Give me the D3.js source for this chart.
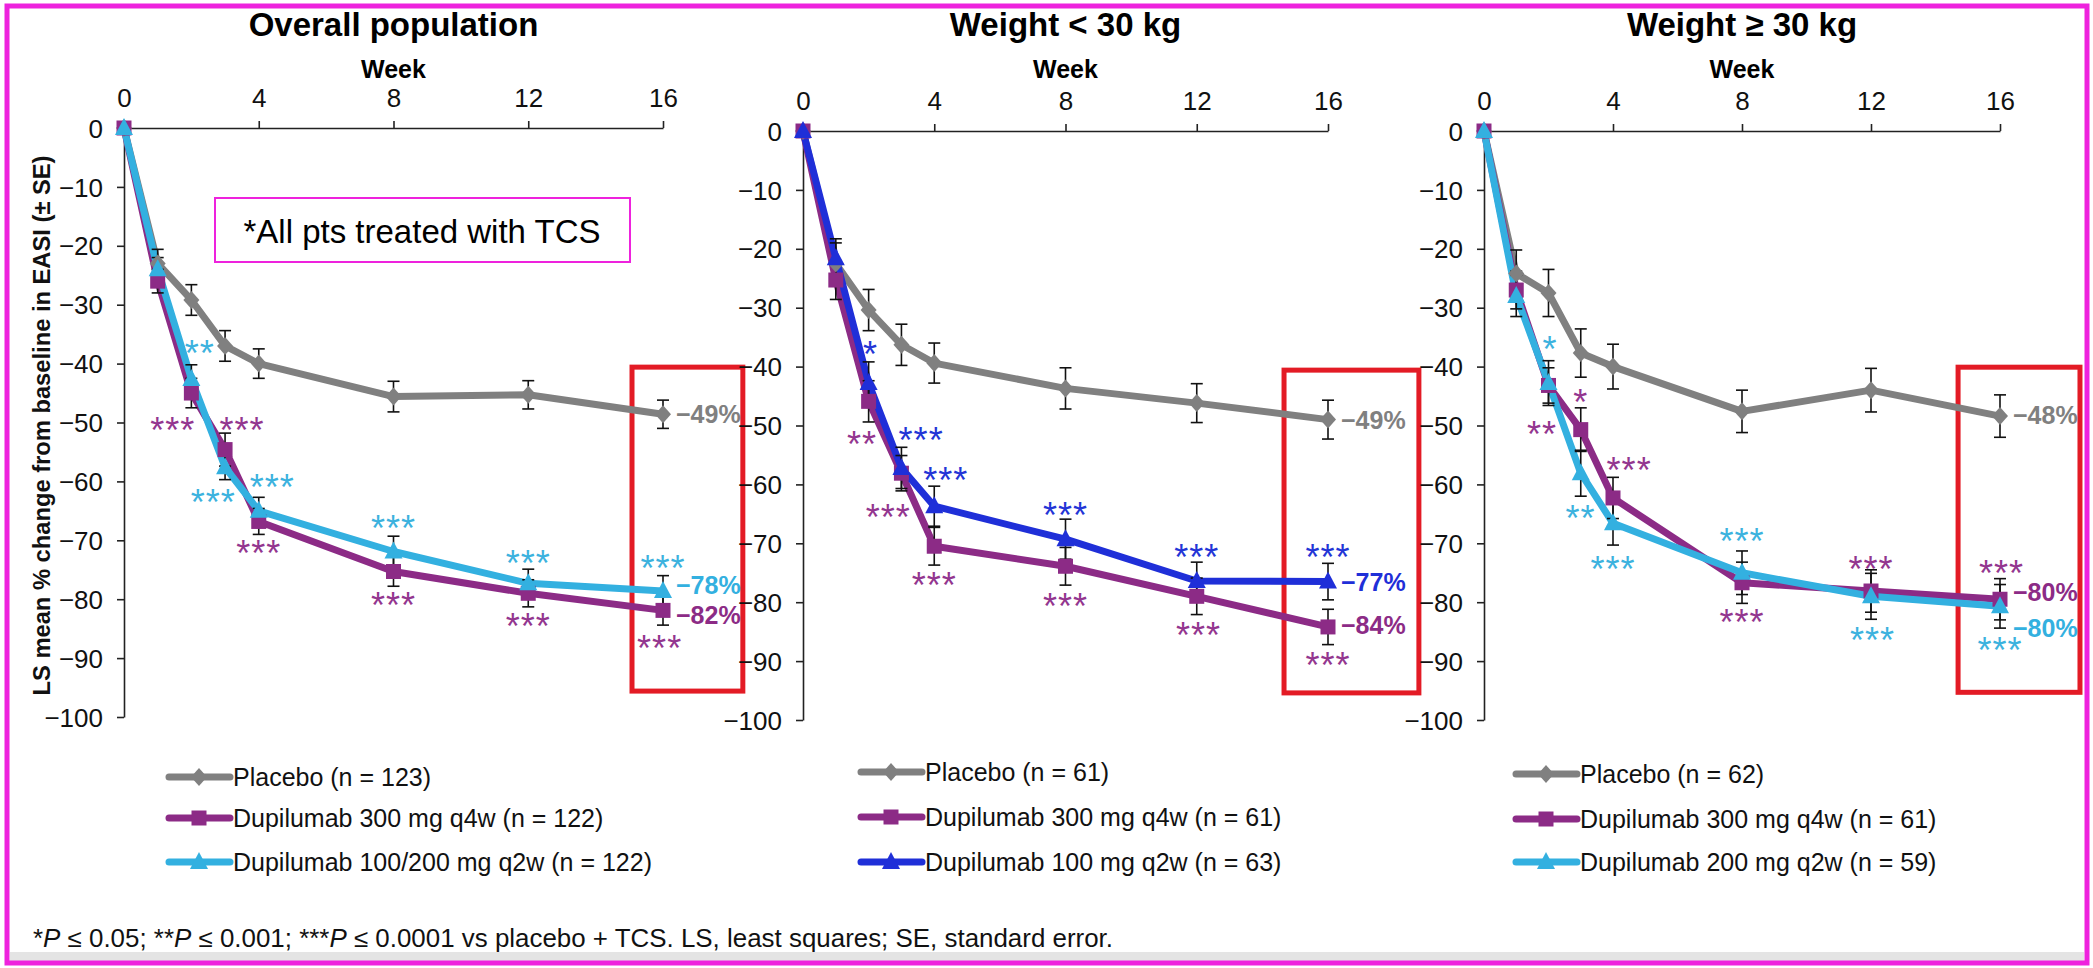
<!DOCTYPE html>
<html><head><meta charset="utf-8">
<script src="https://cdn.jsdelivr.net/npm/d3@7"></script>
<style>
html,body{margin:0;padding:0;background:#fff;}
svg{display:block;}
text{font-family:'Liberation Sans',Arial,sans-serif;}
</style></head><body>
<svg id="chart" width="2093" height="968"></svg>
<script>
// ---------- DATA ----------
const weeks = [0, 1, 2, 3, 4, 8, 12, 16];
const xTickValues = [0, 4, 8, 12, 16];
const yTickValues = [0, -10, -20, -30, -40, -50, -60, -70, -80, -90, -100];
const panelTitles = ["Overall population", "Weight < 30 kg", "Weight \u2265 30 kg"];
const xAxisTitle = "Week";
const yAxisTitle = "LS mean % change from baseline in EASI (\u00b1 SE)";

// Overall population
const overallPlacebo   = [0, -23.0, -29.2, -37.0, -40.0, -45.6, -45.3, -48.6];
const overallPlaceboSE = [0, 2.4, 2.6, 2.6, 2.5, 2.6, 2.4, 2.4];
const overallQ4w       = [0, -26.0, -45.0, -54.6, -66.8, -75.3, -79.0, -81.9];
const overallQ4wSE     = [0, 2.0, 2.5, 2.8, 2.2, 2.5, 2.3, 2.5];
const overallQ2w       = [0, -24.0, -42.6, -57.6, -65.0, -71.9, -77.3, -78.6];
const overallQ2wSE     = [0, 2.0, 2.4, 2.1, 2.3, 2.6, 2.4, 2.6];
// Weight < 30 kg
const lowPlacebo   = [0, -22.5, -30.4, -36.3, -39.4, -43.7, -46.2, -49.0];
const lowPlaceboSE = [0, 3.5, 3.5, 3.5, 3.4, 3.5, 3.3, 3.3];
const lowQ4w       = [0, -25.3, -45.9, -58.1, -70.5, -73.9, -79.0, -84.2];
const lowQ4wSE     = [0, 3.3, 3.5, 3.0, 3.2, 3.2, 3.1, 3.0];
const lowQ2w       = [0, -21.6, -42.8, -57.2, -63.7, -69.3, -76.4, -76.5];
const lowQ2wSE     = [0, 3.3, 3.6, 3.5, 3.4, 3.4, 3.2, 3.1];
// Weight >= 30 kg
const highPlacebo   = [0, -24.2, -27.5, -37.7, -40.0, -47.6, -44.0, -48.4];
const highPlaceboSE = [0, 4.0, 4.0, 4.1, 3.8, 3.6, 3.7, 3.6];
const highQ4w       = [0, -27.0, -43.2, -50.7, -62.3, -76.7, -78.1, -79.5];
const highQ4wSE     = [0, 3.2, 3.0, 3.7, 3.5, 3.5, 3.6, 3.5];
const highQ2w       = [0, -28.0, -42.8, -58.1, -66.6, -75.0, -79.0, -80.7];
const highQ2wSE     = [0, 3.5, 3.8, 3.9, 3.7, 3.7, 3.9, 3.7];

const overallLegend = ["Placebo (n = 123)", "Dupilumab 300 mg q4w (n = 122)", "Dupilumab 100/200 mg q2w (n = 122)"];
const lowLegend     = ["Placebo (n = 61)", "Dupilumab 300 mg q4w (n = 61)", "Dupilumab 100 mg q2w (n = 63)"];
const highLegend    = ["Placebo (n = 62)", "Dupilumab 300 mg q4w (n = 61)", "Dupilumab 200 mg q2w (n = 59)"];

const overallEndLabels = [["\u221249%", -48.5, "pl"], ["\u221278%", -77.6, "lb"], ["\u221282%", -82.6, "pu"]];
const lowEndLabels     = [["\u221249%", -49, "pl"], ["\u221277%", -76.5, "db"], ["\u221284%", -83.8, "pu"]];
const highEndLabels    = [["\u221248%", -48.2, "pl"], ["\u221280%", -78.3, "pu"], ["\u221280%", -84.3, "lb"]];

// significance marks: [week, value, text, colour key]
const overallSig = [[2.25,-37,"**","lb"],[1.45,-50,"***","pu"],[3.5,-50,"***","pu"],[2.65,-62.3,"***","lb"],[4.4,-59.7,"***","lb"],
  [4.0,-71,"***","pu"],[8,-66.8,"***","lb"],[8,-79.8,"***","pu"],[12,-72.7,"***","lb"],[12,-83.4,"***","pu"],[16,-73.5,"***","lb"],[15.9,-87.1,"***","pu"]];
const lowSig = [[2.06,-36.6,"*","db"],[1.8,-51.9,"**","pu"],[3.6,-51.3,"***","db"],[4.35,-58,"***","db"],[2.6,-64.3,"***","pu"],
  [4,-75.9,"***","pu"],[8,-64,"***","db"],[8,-79.5,"***","pu"],[12,-71.1,"***","db"],[12.05,-84.4,"***","pu"],[16,-71.1,"***","db"],[16,-89.4,"***","pu"]];
const highSig = [[2.05,-35.8,"*","lb"],[3.0,-44.8,"*","pu"],[1.8,-50.2,"**","pu"],[2.99,-64.6,"**","lb"],[4.5,-56.4,"***","pu"],
  [4.0,-73.1,"***","lb"],[8,-68.5,"***","lb"],[8,-82.1,"***","pu"],[12,-73.1,"***","pu"],[12.05,-85.2,"***","lb"],[16.05,-73.9,"***","pu"],[16,-86.9,"***","lb"]];

const footnote = ["*", "P", " \u2264 0.05; **", "P", " \u2264 0.001; ***", "P", " \u2264 0.0001 vs placebo + TCS. LS, least squares; SE, standard error."];
const noteText = "*All pts treated with TCS";

// ---------- STYLE ----------
const colors = {pl: "#808080", pu: "#8c2b86", lb: "#33b0e0", db: "#1f2fd8"};
const sigColors = {pl: "#808080", pu: "#93368f", lb: "#3cb2de", db: "#2335d6"};
const red = "#e31b25", magenta = "#ee22dd";

const panels = [
  {title: panelTitles[0], left: 124, right: 663, top: 128, bottom: 717,
   series: [["pl", overallPlacebo, overallPlaceboSE, "diamond"], ["pu", overallQ4w, overallQ4wSE, "square"], ["lb", overallQ2w, overallQ2wSE, "triangle"]],
   legend: overallLegend, legX: 169, legRows: [777, 818, 862], ends: overallEndLabels, sig: overallSig, box: [15.08, 18.37, -40.6, -95.6], yTitle: true},
  {title: panelTitles[1], left: 803, right: 1328, top: 131, bottom: 720,
   series: [["pl", lowPlacebo, lowPlaceboSE, "diamond"], ["pu", lowQ4w, lowQ4wSE, "square"], ["db", lowQ2w, lowQ2wSE, "triangle"]],
   legend: lowLegend, legX: 861, legRows: [772, 817, 862], ends: lowEndLabels, sig: lowSig, box: [14.66, 18.77, -40.6, -95.4]},
  {title: panelTitles[2], left: 1484, right: 2000, top: 131, bottom: 720,
   series: [["pl", highPlacebo, highPlaceboSE, "diamond"], ["pu", highQ4w, highQ4wSE, "square"], ["lb", highQ2w, highQ2wSE, "triangle"]],
   legend: highLegend, legX: 1516, legRows: [774, 819, 862], ends: highEndLabels, sig: highSig, box: [14.70, 18.48, -40.1, -95.3]}
];

function markerPath(type, cx, cy) {
  if (type === "diamond") return `M${cx},${cy-9}L${cx+8},${cy}L${cx},${cy+9}L${cx-8},${cy}Z`;
  if (type === "square") return `M${cx-7.5},${cy-7.5}h15v15h-15Z`;
  return `M${cx},${cy-10}L${cx+9},${cy+7}L${cx-9},${cy+7}Z`;
}

const svg = d3.select("#chart");
svg.append("rect").attr("width", 2093).attr("height", 968).attr("fill", "#fff");
svg.append("rect").attr("x", 10).attr("y", 952).attr("width", 2074).attr("height", 10).attr("fill", "#e4e4e4");

panels.forEach(p => {
  const x = d3.scaleLinear().domain([0, 16]).range([p.left, p.right]);
  const y = d3.scaleLinear().domain([0, -100]).range([p.top, p.bottom]);
  const g = svg.append("g");
  const cx = (p.left + p.right) / 2;

  g.append("text").attr("x", cx).attr("y", 36).attr("text-anchor", "middle")
    .attr("font-size", 33).attr("font-weight", "bold").text(p.title);
  g.append("text").attr("x", cx).attr("y", 78).attr("text-anchor", "middle")
    .attr("font-size", 25).attr("font-weight", "bold").text(xAxisTitle);

  // axes
  const xAxis = d3.axisTop(x).tickValues(xTickValues).tickSize(7).tickPadding(14).tickSizeOuter(0);
  const xg = g.append("g").attr("transform", `translate(0,${y(0)})`).call(xAxis);
  const yAxis = d3.axisLeft(y).tickValues(yTickValues).tickSize(7).tickPadding(14).tickSizeOuter(0)
    .tickFormat(d => d === 0 ? "0" : "\u2212" + Math.abs(d));
  const yg = g.append("g").attr("transform", `translate(${x(0)},0)`).call(yAxis);
  [xg, yg].forEach(a => {
    a.selectAll("path.domain").attr("stroke", "#222").attr("stroke-width", 1.6);
    a.selectAll(".tick line").attr("stroke", "#222").attr("stroke-width", 1.6);
    a.selectAll(".tick text").attr("font-size", 26).attr("fill", "#111").attr("font-family", "'Liberation Sans',Arial,sans-serif");
  });
  yg.selectAll(".tick text").attr("dy", "0.35em");

  if (p.yTitle) {
    svg.append("text").attr("transform", `translate(42,${(y(0)+y(-100))/2 + 3}) rotate(-90)`)
      .attr("text-anchor", "middle").attr("dominant-baseline", "central")
      .attr("font-size", 23).attr("font-weight", "bold").attr("fill", "#111")
      .attr("textLength", 540).attr("lengthAdjust", "spacingAndGlyphs").text(yAxisTitle);
  }

  // red highlight box
  g.append("rect").attr("x", x(p.box[0])).attr("y", y(p.box[2]))
    .attr("width", x(p.box[1]) - x(p.box[0])).attr("height", y(p.box[3]) - y(p.box[2]))
    .attr("fill", "none").attr("stroke", red).attr("stroke-width", 5);

  const line = d3.line().x((d, i) => x(weeks[i])).y(d => y(d));
  p.series.forEach(s => {
    g.append("path").datum(s[1]).attr("d", line).attr("fill", "none")
      .attr("stroke", colors[s[0]]).attr("stroke-width", 7).attr("stroke-linejoin", "round").attr("stroke-linecap", "round");
  });
  // error bars
  p.series.forEach(s => {
    s[1].forEach((v, i) => {
      const se = s[2][i];
      if (!se) return;
      const xx = x(weeks[i]);
      const eg = g.append("g").attr("stroke", "#111").attr("stroke-width", 1.6);
      eg.append("line").attr("x1", xx).attr("x2", xx).attr("y1", y(v + se)).attr("y2", y(v - se));
      eg.append("line").attr("x1", xx - 6).attr("x2", xx + 6).attr("y1", y(v + se)).attr("y2", y(v + se));
      eg.append("line").attr("x1", xx - 6).attr("x2", xx + 6).attr("y1", y(v - se)).attr("y2", y(v - se));
    });
  });
  // markers
  p.series.forEach(s => {
    g.selectAll(null).data(s[1]).enter().append("path")
      .attr("d", (d, i) => markerPath(s[3], x(weeks[i]), y(d))).attr("fill", colors[s[0]]);
  });

  // significance marks
  g.selectAll(null).data(p.sig).enter().append("text")
    .attr("x", d => x(d[0])).attr("y", d => y(d[1]) + 20)
    .attr("text-anchor", "middle").attr("font-size", 36).attr("letter-spacing", 1)
    .attr("fill", d => sigColors[d[3]]).text(d => d[2]);

  // end labels
  g.selectAll(null).data(p.ends).enter().append("text")
    .attr("x", x(16) + 13).attr("y", d => y(d[1])).attr("dominant-baseline", "central")
    .attr("font-size", 25).attr("font-weight", "bold").attr("fill", d => colors[d[2]]).text(d => d[0]);

  // legend
  p.series.forEach((s, i) => {
    const ly = p.legRows[i];
    g.append("line").attr("x1", p.legX).attr("x2", p.legX + 61).attr("y1", ly).attr("y2", ly)
      .attr("stroke", colors[s[0]]).attr("stroke-width", 7).attr("stroke-linecap", "round");
    g.append("path").attr("d", markerPath(s[3], p.legX + 30, ly)).attr("fill", colors[s[0]]);
    g.append("text").attr("x", p.legX + 64).attr("y", ly).attr("dominant-baseline", "central")
      .attr("font-size", 25).attr("fill", "#111").text(p.legend[i]);
  });
});

// note box
svg.append("rect").attr("x", 215).attr("y", 198).attr("width", 415).attr("height", 64)
  .attr("fill", "#fff").attr("stroke", magenta).attr("stroke-width", 2);
svg.append("text").attr("x", 422).attr("y", 231).attr("text-anchor", "middle").attr("dominant-baseline", "central")
  .attr("font-family", "Lato, 'Open Sans', sans-serif").attr("font-size", 33).attr("fill", "#000").text(noteText);

// footnote
const fn = svg.append("text").attr("x", 33).attr("y", 947).attr("font-size", 25).attr("fill", "#111")
  .attr("textLength", 1080).attr("lengthAdjust", "spacingAndGlyphs");
footnote.forEach((t, i) => fn.append("tspan").attr("font-style", t === "P" ? "italic" : "normal").text(t));

// outer border
svg.append("rect").attr("x", 7).attr("y", 6).attr("width", 2080).attr("height", 957)
  .attr("fill", "none").attr("stroke", magenta).attr("stroke-width", 5);
</script>
</body></html>
